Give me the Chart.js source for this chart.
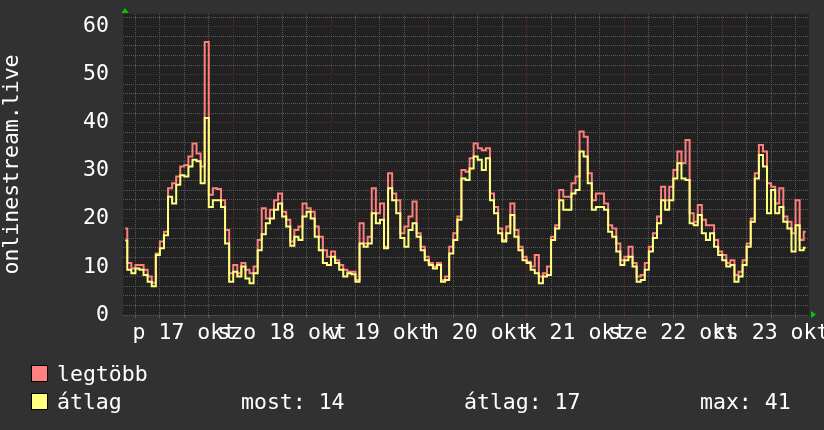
<!DOCTYPE html>
<html><head><meta charset="utf-8">
<script src="https://cdn.jsdelivr.net/npm/chart.js@4/dist/chart.umd.min.js"></script>
<style>
html,body{margin:0;padding:0;background:#313131;overflow:hidden;}
canvas{display:block;}
</style></head><body>
<canvas id="c" width="824" height="430"></canvas>
<script>
// time axis: hours relative to 17 Oct 00:00, one value per hour (step centres)
const START_HOUR = -2.5;
const X_MIN = -3.05, X_MAX = 165.3;
const dayLabels = ['p 17 okt','szo 18 okt','v 19 okt','h 20 okt','k 21 okt','sze 22 okt','cs 23 okt'];
const yLabelValues = [0,10,20,30,40,50,60];
const seriesNames = ['legtöbb','átlag'];
const statTexts = ['most: 14','átlag: 17','max: 41'];
const axisTitle = 'onlinestream.live';

// legtöbb (max)
const maxVals = [
 18.0,10.8,9.7,10.4,10.4,9.4,8.0,6.7,12.8,15.3,17.3,26.4,27.4,28.8,30.9,31.2,33.0,35.7,33.6,30.9,
 56.8,25.0,26.4,26.2,23.9,17.7,8.7,10.4,8.7,10.8,9.4,8.7,10.1,15.6,22.2,20.1,21.9,23.9,25.3,21.5,
 19.8,15.3,17.7,18.4,23.2,22.2,21.5,18.4,16.3,13.5,12.1,13.2,11.4,10.4,9.4,9.0,9.0,7.3,19.1,14.9,
 16.3,26.4,21.2,23.2,14.2,29.5,25.3,23.9,17.0,18.4,20.5,23.6,17.0,14.2,12.1,10.8,10.1,10.8,7.3,8.0,
 14.2,17.0,20.5,30.2,29.8,32.6,35.7,34.7,34.3,34.7,25.3,22.5,18.0,15.6,18.4,23.2,17.7,14.2,12.1,11.1,
 10.1,12.5,8.0,8.7,10.1,16.3,18.7,26.0,24.6,24.6,27.4,28.8,38.2,37.1,29.5,23.9,25.3,25.3,23.2,18.7,
 18.0,14.9,11.4,12.1,14.2,10.8,8.0,8.3,10.8,14.2,17.0,20.5,26.7,23.9,26.7,30.2,34.0,31.6,36.4,21.2,
 19.4,22.9,19.8,18.7,18.7,15.6,13.2,12.5,10.8,11.4,8.3,9.0,11.4,14.9,20.1,29.5,35.4,34.0,27.4,26.7,
 23.2,26.4,20.5,19.4,17.0,23.9,15.6,17.3
];
// átlag (average)
const avgVals = [
 15.5,9.4,8.7,9.7,9.4,8.3,6.9,6.0,12.5,13.9,16.6,24.6,23.2,27.1,29.1,28.8,30.9,32.3,32.0,27.4,
 41.0,22.5,23.9,23.9,22.5,14.9,6.9,9.0,8.0,10.1,7.6,6.6,8.7,13.5,16.8,19.1,20.1,21.9,23.2,20.5,
 18.4,14.4,16.3,15.6,20.5,21.5,20.1,16.3,13.5,10.8,10.4,12.1,10.8,9.4,8.0,8.7,8.5,6.9,14.9,14.2,
 14.9,21.2,19.1,19.8,13.9,26.4,23.9,21.2,16.0,14.2,17.7,19.1,16.3,13.5,11.4,10.4,9.7,10.4,6.9,7.3,
 12.8,15.6,19.8,28.4,28.1,30.5,33.0,32.3,30.2,32.6,23.9,21.2,17.0,15.3,17.0,20.8,16.3,13.5,11.4,10.8,
 9.4,8.7,6.6,8.0,8.3,15.6,18.0,23.9,21.9,21.9,25.3,26.0,34.0,33.0,27.4,21.9,22.5,22.5,21.9,17.3,
 16.3,13.2,10.4,11.4,12.1,10.1,6.9,7.3,9.4,13.2,16.0,19.1,23.9,21.9,23.9,28.4,31.6,28.4,28.1,19.1,
 18.7,20.8,17.0,15.6,17.0,14.2,12.5,11.4,10.1,10.4,6.9,8.0,10.4,14.2,19.4,28.4,33.3,30.9,21.2,26.0,
 21.2,22.5,19.4,18.0,13.2,18.7,13.5,14.0
];

const FONT = "'DejaVu Sans Mono', monospace";
const FS = 21.5;
Chart.defaults.font.family = FONT;
Chart.defaults.font.size = FS;
Chart.defaults.color = '#ffffff';

const hours = maxVals.map((_, i) => START_HOUR + i);
const toPoints = arr => arr.map((v, i) => ({x: hours[i], y: v}));

// grid every 6 h on x, every 2 units on y
const xGrid = [];
for (let h = 0; h <= X_MAX; h += 6) xGrid.push(h);
const yGrid = [];
for (let v = 0; v <= 62; v += 2) yGrid.push(v);

const GRAY = '#5a5a5a';
const RED = '#5e2d2d';

const bgPlugin = {
  id: 'bg',
  beforeDraw(chart) {
    const {ctx, chartArea: a} = chart;
    ctx.save();
    ctx.fillStyle = '#313131';
    ctx.fillRect(0, 0, chart.width, chart.height);
    ctx.fillStyle = '#212121';
    ctx.fillRect(a.left, a.top, a.right - a.left, a.bottom - a.top);
    ctx.restore();
  },
  afterDraw(chart) {
    const {ctx, chartArea: a} = chart;
    ctx.save();
    // arrows
    ctx.fillStyle = '#00c800';
    ctx.beginPath();
    ctx.moveTo(a.left + 2, a.top - 6);
    ctx.lineTo(a.left - 1.5, a.top - 1);
    ctx.lineTo(a.left + 5.5, a.top - 1);
    ctx.closePath(); ctx.fill();
    ctx.beginPath();
    ctx.moveTo(a.right + 7, a.bottom - 0.5);
    ctx.lineTo(a.right + 2, a.bottom - 4);
    ctx.lineTo(a.right + 2, a.bottom + 3);
    ctx.closePath(); ctx.fill();
    // legend
    const cols = ['#ff8080', '#ffff80'];
    const rowsY = [381, 409];
    ctx.font = FS + 'px ' + FONT;
    ctx.textBaseline = 'alphabetic';
    ctx.textAlign = 'left';
    for (let i = 0; i < 2; i++) {
      ctx.fillStyle = cols[i];
      ctx.fillRect(32, rowsY[i] - 15, 15, 15);
      ctx.strokeStyle = '#000000';
      ctx.lineWidth = 1;
      ctx.strokeRect(31.5, rowsY[i] - 15.5, 16, 16);
      ctx.fillStyle = '#ffffff';
      ctx.fillText(seriesNames[i], 57, rowsY[i]);
    }
    ctx.fillText(statTexts[0], 241, rowsY[1]);
    ctx.fillText(statTexts[1], 464, rowsY[1]);
    ctx.fillText(statTexts[2], 700, rowsY[1]);
    ctx.restore();
  }
};

new Chart(document.getElementById('c'), {
  type: 'line',
  data: {
    datasets: [
      {label: seriesNames[0], data: toPoints(maxVals), borderColor: '#ff7f7f', order: 2},
      {label: seriesNames[1], data: toPoints(avgVals), borderColor: '#ffff7f', order: 1}
    ]
  },
  options: {
    responsive: false,
    animation: false,
    devicePixelRatio: 1,
    elements: {
      line: {borderWidth: 2, stepped: 'middle', tension: 0, fill: false},
      point: {radius: 0, hoverRadius: 0}
    },
    layout: {padding: {left: 0, top: 14, right: 15, bottom: 80}},
    plugins: {legend: {display: false}, tooltip: {enabled: false}},
    scales: {
      x: {
        type: 'linear', min: X_MIN, max: X_MAX,
        afterBuildTicks: s => { s.ticks = xGrid.map(v => ({value: v})); },
        ticks: {
          autoSkip: false, maxRotation: 0, minRotation: 0, padding: 3, color: '#ffffff',
          callback: v => ((v - 12) % 24 === 0) ? dayLabels[(v - 12) / 24] : ''
        },
        grid: {
          color: c => (c.tick && c.tick.value % 24 === 0 && c.tick.value > 0) ? RED : GRAY,
          lineWidth: 1, drawTicks: true, tickLength: 3, borderDash: [1, 1]
        },
        border: {display: false, dash: [1, 1]},
        afterFit: s => { s.height = 35; s.paddingLeft = 0; s.paddingRight = 0; }
      },
      y: {
        type: 'linear', min: 0, max: 62.64,
        afterBuildTicks: s => { s.ticks = yGrid.map(v => ({value: v})); },
        ticks: {
          autoSkip: false, padding: 14, color: '#ffffff',
          callback: v => yLabelValues.includes(v) ? String(v) : ''
        },
        grid: {
          color: c => (c.tick && c.tick.value % 10 === 0 && c.tick.value > 0) ? RED : GRAY,
          lineWidth: 1, drawTicks: false, borderDash: [1, 1]
        },
        border: {display: false, dash: [1, 1]},
        title: {display: true, text: axisTitle, padding: 0, color: '#ffffff', font: {size: FS, family: FONT}},
        afterFit: s => { s.width = 123; s.paddingTop = 0; s.paddingBottom = 0; }
      }
    }
  },
  plugins: [bgPlugin]
});
</script>
</body></html>
